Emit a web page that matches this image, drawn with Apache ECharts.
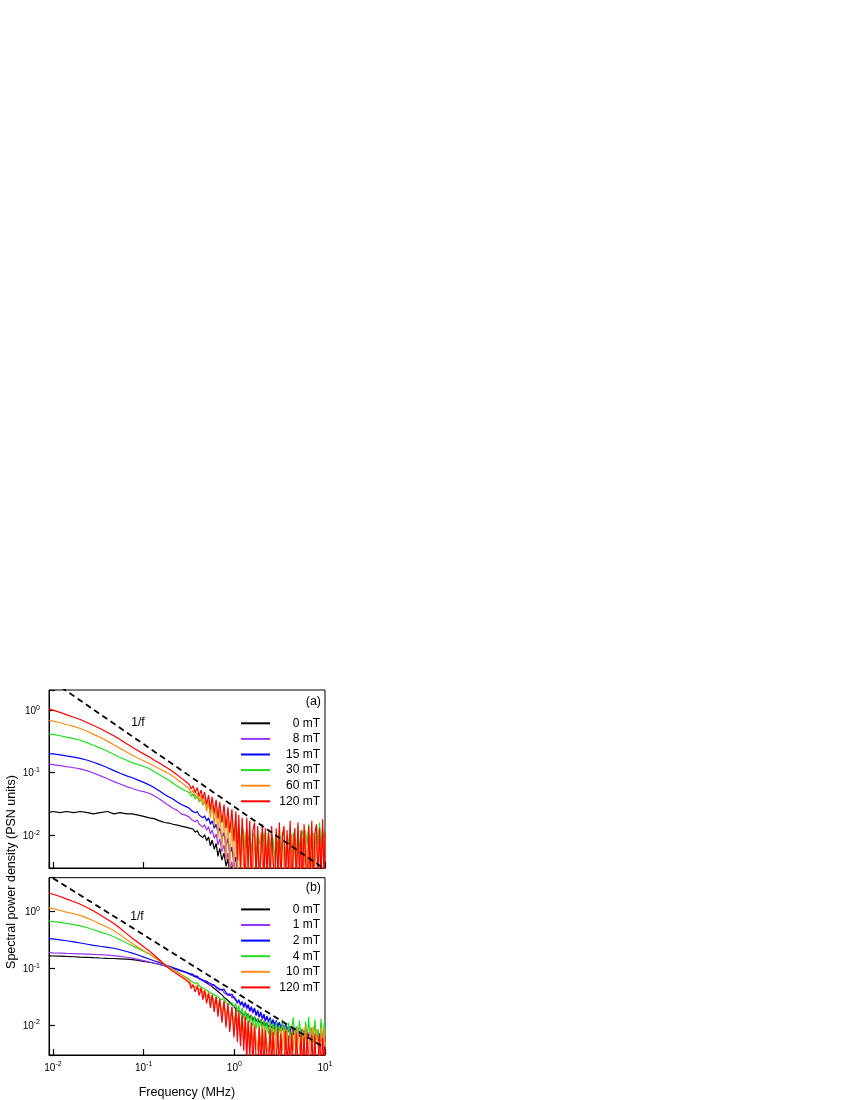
<!DOCTYPE html>
<html>
<head>
<meta charset="utf-8">
<title>Spectral power density</title>
<script src="https://cdn.jsdelivr.net/npm/echarts@6/dist/echarts.min.js"></script>
<style>
  html, body { margin: 0; padding: 0; background: #fff; }
  #chart { width: 850px; height: 1100px; }
</style>
</head>
<body>
<div id="chart"></div>
<script>
// frequency grid (MHz) shared by every spectrum
var freq = [0.009,0.01,0.012,0.014,0.017,0.02,0.024,0.028,0.033,0.04,
  0.047,0.055,0.065,0.075,0.087,0.1,0.115,0.13,0.15,0.17,
  0.19,0.21,0.235,0.26,0.29,
  0.32,0.335,0.35,0.37,0.39,0.41,0.43,0.45,0.47,0.495,
  0.52,0.545,0.57,0.6,0.63,0.66,0.69,0.73,0.77,0.81,
  0.85,0.89,0.94,0.99,
  1.04,1.08,1.12,1.17,1.22,1.27,1.32,1.37,1.42,1.48,
  1.54,1.6,1.67,1.74,1.81,1.88,1.96,2.04,2.12,2.2,
  2.29,2.38,2.48,2.58,2.68,2.79,2.9,3.02,3.14,3.26,
  3.39,3.53,3.67,3.82,3.97,4.13,4.3,4.47,4.65,4.83,
  5.03,5.23,5.44,5.65,5.88,6.11,6.36,6.61,6.88,7.15,
  7.44,7.74,8.05,8.37,8.7,9.05,9.41,9.8,10];

// panel (a)
var a_0mT = [0.023,0.024,0.023,0.024,0.023,0.024,0.023,0.022,0.023,0.024,
  0.022,0.023,0.022,0.022,0.021,0.020,0.019,0.0185,0.017,0.016,
  0.0157,0.015,0.0145,0.014,0.0135,
  0.013,0.0122,0.0126,0.0112,0.0118,0.0102,0.0108,0.0092,0.0102,0.0082,
  0.0094,0.0068,0.0084,0.006,0.0074,0.0046,0.0062,0.004,0.0052,0.0032,
  0.0042,0.0025,0.0032,0.002];
var a_8mT = [0.137,0.135,0.130,0.125,0.120,0.115,0.107,0.099,0.090,0.080,
  0.072,0.066,0.060,0.056,0.052,0.050,0.047,0.043,0.038,0.033,
  0.030,0.027,0.025,0.022,0.021,
  0.0195,0.018,0.0185,0.0165,0.0175,0.015,0.016,0.0135,0.0148,0.012,
  0.0138,0.0105,0.0122,0.009,0.0105,0.007,0.0088,0.0055,0.007,0.004,
  0.0052,0.003,0.0038,0.0022];
var a_15mT = [0.202,0.200,0.193,0.186,0.178,0.170,0.158,0.147,0.135,0.120,
  0.108,0.098,0.089,0.083,0.076,0.070,0.064,0.058,0.051,0.045,
  0.041,0.038,0.034,0.031,0.029,
  0.027,0.025,0.026,0.023,0.024,0.021,0.022,0.019,0.0205,0.017,
  0.019,0.015,0.017,0.013,0.015,0.011,0.013,0.009,0.011,0.0065,
  0.009,0.0048,0.0065,0.0035,
  0.0045,0.0022];
var a_30mT = [0.415,0.41,0.39,0.37,0.35,0.33,0.30,0.275,0.25,0.22,
  0.195,0.175,0.158,0.145,0.135,0.126,0.117,0.105,0.093,0.083,
  0.076,0.068,0.061,0.056,0.051,
  0.048,0.042,0.046,0.038,0.042,0.034,0.038,0.030,0.035,0.027,
  0.031,0.024,0.028,0.021,0.026,0.018,0.024,0.016,0.021,0.013,
  0.019,0.011,0.017,0.010,
  0.017,0.009,0.015,0.007,0.014,0.011,0.006,0.013,0.008,0.012,
  0.005,0.011,0.009,0.004,0.012,0.007,0.010,0.005,0.011,0.008,
  0.0045,0.012,0.006,0.010,0.0085,0.004,0.011,0.006,0.013,0.005,
  0.009,0.012,0.004,0.010,0.007,0.013,0.005,0.011,0.0085,0.004,
  0.014,0.006,0.010,0.012,0.0045,0.011,0.007,0.015,0.005,0.012,
  0.009,0.0045,0.014,0.007,0.016,0.006,0.013,0.008,0.011];
var a_60mT = [0.69,0.67,0.63,0.59,0.55,0.51,0.46,0.41,0.37,0.32,
  0.28,0.245,0.215,0.19,0.17,0.155,0.142,0.128,0.115,0.105,
  0.097,0.088,0.078,0.070,0.062,
  0.055,0.047,0.053,0.041,0.048,0.035,0.044,0.030,0.040,0.024,
  0.036,0.019,0.033,0.014,0.029,0.009,0.026,0.006,0.023,0.004,
  0.020,0.003,0.018,0.0025,
  0.016,0.0022,0.014,0.003,0.013,0.002,0.009,0.012,0.0025,0.011,
  0.004,0.0022,0.010,0.003,0.0095,0.0022,0.011,0.0035,0.0025,0.0095,
  0.003,0.0105,0.0022,0.0085,0.0035,0.0025,0.010,0.003,0.009,0.0022,
  0.011,0.003,0.0025,0.0095,0.0035,0.0022,0.0105,0.003,0.009,0.0025,
  0.011,0.0035,0.0022,0.0095,0.003,0.012,0.0025,0.0035,0.010,0.0022,
  0.011,0.003,0.0095,0.0025,0.012,0.003,0.0105,0.0025,0.009];
var a_120mT = [1.04,1.00,0.92,0.85,0.77,0.71,0.63,0.57,0.51,0.44,
  0.39,0.34,0.29,0.255,0.225,0.20,0.18,0.16,0.142,0.127,
  0.115,0.104,0.092,0.082,0.073,
  0.064,0.055,0.062,0.048,0.058,0.042,0.053,0.038,0.049,0.031,
  0.044,0.026,0.041,0.023,0.037,0.019,0.034,0.016,0.031,0.013,
  0.028,0.011,0.026,0.008,
  0.024,0.004,0.021,0.0025,0.019,0.006,0.0015,0.019,0.003,0.017,
  0.0015,0.012,0.016,0.002,0.014,0.0015,0.005,0.015,0.0015,0.013,
  0.002,0.011,0.0015,0.014,0.004,0.0015,0.013,0.002,0.016,0.0015,
  0.010,0.014,0.0015,0.012,0.002,0.017,0.0015,0.006,0.013,0.0015,
  0.016,0.002,0.012,0.0015,0.015,0.004,0.0015,0.014,0.002,0.017,
  0.0015,0.011,0.015,0.0015,0.013,0.002,0.018,0.0015,0.011];

// panel (b)
var b_0mT = [0.166,0.165,0.164,0.162,0.160,0.158,0.156,0.154,0.152,0.150,
  0.149,0.147,0.145,0.142,0.138,0.133,0.128,0.123,0.117,0.111,
  0.105,0.100,0.095,0.090,0.085,
  0.079,0.076,0.074,0.071,0.068,0.066,0.063,0.060,0.058,0.055,
  0.052,0.050,0.047,0.044,0.042,0.039,0.037,0.034,0.031,0.029,
  0.027,0.025,0.023,0.021,
  0.020,0.018,0.019,0.017,0.018,0.015,0.017,0.014,0.016,0.013,
  0.015,0.012,0.014,0.0115,0.013,0.011,0.0125,0.0102,0.0118,0.0098,
  0.011,0.0092,0.0105,0.0088,0.010,0.0084,0.0095,0.008,0.009,0.0077,
  0.0088,0.0074,0.0085,0.0071,0.0082,0.0069,0.0079,0.0067,0.0077,0.0064,
  0.0074,0.0062,0.0072,0.006,0.007,0.0058,0.0068,0.0057,0.0066,0.0056,
  0.0064,0.0054,0.0062,0.0053,0.006,0.0052,0.0059,0.005,0.0057];
var b_1mT = [0.190,0.188,0.186,0.184,0.182,0.180,0.178,0.176,0.174,0.171,
  0.168,0.163,0.157,0.151,0.144,0.137,0.130,0.124,0.117,0.111,
  0.104,0.099,0.095,0.090,0.085,
  0.080,0.079,0.075,0.074,0.069,0.069,0.063,0.064,0.058,0.060,
  0.053,0.056,0.049,0.051,0.045,0.048,0.041,0.043,0.037,0.040,
  0.033,0.036,0.030,0.032,
  0.029,0.024,0.027,0.022,0.025,0.020,0.024,0.019,0.022,0.017,
  0.020,0.016,0.019,0.0145,0.0175,0.0135,0.016,0.0125,0.015,0.0115,
  0.014,0.011,0.0128,0.0102,0.012,0.0095,0.0115,0.009,0.0108,0.0085,
  0.0102,0.0082,0.0098,0.0078,0.0095,0.0074,0.009,0.0072,0.0086,0.0069,
  0.0083,0.0066,0.008,0.0063,0.0078,0.0062,0.0075,0.006,0.0072,0.0058,
  0.007,0.0056,0.0068,0.0055,0.0066,0.0053,0.0064,0.0052,0.006];
var b_2mT = [0.335,0.330,0.318,0.307,0.293,0.280,0.266,0.255,0.245,0.235,
  0.226,0.213,0.198,0.186,0.172,0.158,0.146,0.136,0.126,0.117,
  0.110,0.103,0.097,0.091,0.086,
  0.081,0.077,0.078,0.072,0.073,0.067,0.068,0.062,0.064,0.058,
  0.059,0.054,0.056,0.050,0.051,0.045,0.047,0.041,0.043,0.037,
  0.039,0.033,0.035,0.030,
  0.030,0.025,0.028,0.023,0.026,0.021,0.025,0.020,0.023,0.018,
  0.021,0.017,0.020,0.015,0.018,0.014,0.017,0.013,0.0155,0.012,
  0.0145,0.0115,0.0135,0.0105,0.0125,0.0098,0.012,0.0093,0.0112,0.0088,
  0.0106,0.0085,0.0102,0.008,0.0098,0.0077,0.0094,0.0074,0.009,0.0071,
  0.0087,0.0069,0.0084,0.0067,0.0081,0.0065,0.0079,0.0063,0.0077,0.0061,
  0.0075,0.006,0.0073,0.0058,0.0071,0.0057,0.0069,0.0056,0.0062];
var b_4mT = [0.68,0.67,0.645,0.62,0.59,0.56,0.52,0.48,0.44,0.40,
  0.36,0.32,0.28,0.25,0.225,0.20,0.18,0.158,0.136,0.117,
  0.105,0.096,0.087,0.077,0.070,
  0.064,0.059,0.061,0.054,0.056,0.049,0.052,0.045,0.047,0.041,
  0.043,0.037,0.040,0.034,0.036,0.031,0.033,0.028,0.030,0.025,
  0.027,0.023,0.025,0.021,
  0.024,0.017,0.022,0.015,0.020,0.013,0.018,0.012,0.016,0.011,
  0.015,0.0095,0.014,0.0085,0.013,0.008,0.0125,0.0075,0.012,0.007,
  0.011,0.0068,0.0125,0.0062,0.0105,0.0065,0.0115,0.0058,0.010,0.0062,
  0.0125,0.0055,0.0095,0.006,0.011,0.0052,0.009,0.0135,0.0055,0.0095,
  0.005,0.012,0.0058,0.0088,0.0048,0.0115,0.0055,0.014,0.005,0.0092,
  0.0048,0.0125,0.0055,0.0085,0.0045,0.013,0.005,0.011,0.0075];
var b_10mT = [1.17,1.13,1.05,0.98,0.92,0.86,0.77,0.69,0.61,0.53,
  0.46,0.39,0.32,0.275,0.235,0.205,0.182,0.157,0.135,0.117,
  0.105,0.095,0.085,0.077,0.068,
  0.060,0.052,0.056,0.046,0.051,0.041,0.046,0.036,0.042,0.031,
  0.038,0.027,0.034,0.023,0.031,0.019,0.028,0.016,0.025,0.013,
  0.022,0.011,0.020,0.009,
  0.019,0.009,0.017,0.0075,0.015,0.006,0.014,0.005,0.012,0.0045,
  0.011,0.004,0.0105,0.0055,0.0035,0.0095,0.004,0.010,0.0032,0.009,
  0.0045,0.003,0.0095,0.0038,0.0085,0.003,0.009,0.0042,0.0028,0.0088,
  0.0035,0.0095,0.003,0.0082,0.0042,0.0028,0.009,0.0035,0.0085,0.003,
  0.0095,0.004,0.0028,0.0088,0.0032,0.010,0.0038,0.0028,0.009,0.0035,
  0.0095,0.003,0.0085,0.0042,0.0028,0.0092,0.0035,0.0088,0.004];
var b_120mT = [2.12,2.03,1.85,1.68,1.50,1.35,1.17,1.03,0.88,0.73,
  0.62,0.51,0.41,0.34,0.285,0.24,0.205,0.172,0.14,0.117,
  0.100,0.089,0.079,0.071,0.063,
  0.055,0.044,0.052,0.038,0.048,0.033,0.045,0.028,0.040,0.024,
  0.036,0.020,0.034,0.017,0.031,0.014,0.029,0.011,0.027,0.009,
  0.024,0.0075,0.021,0.006,
  0.019,0.005,0.017,0.0042,0.015,0.0035,0.014,0.0022,0.012,0.0028,
  0.011,0.0018,0.0095,0.0025,0.0015,0.009,0.002,0.0085,0.0015,0.008,
  0.0025,0.0015,0.0085,0.0018,0.0075,0.0015,0.0025,0.008,0.0015,0.007,
  0.0018,0.0015,0.0078,0.002,0.0065,0.0015,0.0072,0.0018,0.0015,0.007,
  0.0022,0.0015,0.0068,0.0018,0.006,0.0015,0.0072,0.002,0.0015,0.0065,
  0.0018,0.0062,0.0015,0.0022,0.0068,0.0015,0.006,0.0018,0.0042];

// 1/f guide lines (end points)
var guideA = [[0.01, 2.86], [10, 0.00286]];
var guideB = [[0.01, 3.9], [10, 0.0039]];

var namesA = ['0 mT', '8 mT', '15 mT', '30 mT', '60 mT', '120 mT'];
var namesB = ['0 mT', '1 mT', '2 mT', '4 mT', '10 mT', '120 mT'];
var valuesA = [a_0mT, a_8mT, a_15mT, a_30mT, a_60mT, a_120mT];
var valuesB = [b_0mT, b_1mT, b_2mT, b_4mT, b_10mT, b_120mT];
var colors = ['#000000', '#9933ff', '#0000ff', '#22dd22', '#ff8c1a', '#ff0000'];

var FONT = 'Liberation Sans';

function pairs(vals) {
  return vals.map(function (v, i) { return [freq[i], v]; });
}

function powLabel(v) {
  var l = Math.log10(v);
  var e = Math.round(l);
  if (Math.abs(l - e) > 1e-6) return '';
  return '{b|10}{s|' + e + '}';
}

var supRich = {
  b: { fontSize: 10, fontFamily: FONT, color: '#000', lineHeight: 12, verticalAlign: 'bottom' },
  s: { fontSize: 7, fontFamily: FONT, color: '#000', lineHeight: 8, verticalAlign: 'top' }
};

function xAxisFor(gi, showLabels) {
  return {
    type: 'log', gridIndex: gi, min: 0.00904, max: 10,
    axisLine: { show: true, lineStyle: { color: '#000', width: 1 } },
    axisTick: { show: true, inside: true, length: 6, lineStyle: { color: '#000', width: 1.2 } },
    axisLabel: { show: showLabels, formatter: powLabel, margin: 6, rich: supRich },
    splitLine: { show: false },
    minorTick: { show: false },
    name: showLabels ? 'Frequency (MHz)' : '',
    nameLocation: 'middle', nameGap: 31,
    nameTextStyle: { fontSize: 12.5, color: '#000', fontFamily: FONT }
  };
}

function yAxisFor(gi, min, max) {
  return {
    type: 'log', gridIndex: gi, min: min, max: max,
    axisLine: { show: true, lineStyle: { color: '#000', width: 1 } },
    axisTick: { show: true, inside: true, length: 6, lineStyle: { color: '#000', width: 1.2 } },
    axisLabel: { show: true, formatter: powLabel, margin: 9, rich: supRich },
    splitLine: { show: false },
    minorTick: { show: false }
  };
}

function legendFor(names, top) {
  return {
    orient: 'vertical', left: 241, top: top, padding: 0,
    icon: 'rect', itemWidth: 29, itemHeight: 2, itemGap: 3.6,
    selectedMode: false,
    data: names,
    formatter: function (n) { return '{r|' + n + '}'; },
    textStyle: {
      color: '#000', fontSize: 12, fontFamily: FONT,
      rich: { r: { width: 45, align: 'right', fontSize: 12, fontFamily: FONT } }
    }
  };
}

var series = [];
function addPanel(names, values, guide, gi) {
  for (var i = 0; i < names.length; i++) {
    series.push({
      name: names[i], type: 'line', xAxisIndex: gi, yAxisIndex: gi,
      data: pairs(values[i]), symbol: 'none', showSymbol: false, clip: true,
      lineStyle: { color: colors[i], width: 1.2 }, itemStyle: { color: colors[i] },
      z: 2
    });
  }
  series.push({
    type: 'line', xAxisIndex: gi, yAxisIndex: gi, data: guide,
    symbol: 'none', clip: true, z: 3,
    lineStyle: { color: '#000', width: 1.8, type: [6, 4] }
  });
}
addPanel(namesA, valuesA, guideA, 0);
addPanel(namesB, valuesB, guideB, 1);

var chart = echarts.init(document.getElementById('chart'), null, { renderer: 'canvas' });
chart.setOption({
  backgroundColor: '#fff',
  animation: false,
  textStyle: { fontFamily: FONT },
  grid: [
    { left: 49, top: 690, width: 276, height: 178, show: true, borderColor: '#000', borderWidth: 1, outerBoundsMode: 'none' },
    { left: 49, top: 877.7, width: 276, height: 177.3, show: true, borderColor: '#000', borderWidth: 1, outerBoundsMode: 'none' }
  ],
  xAxis: [xAxisFor(0, false), xAxisFor(1, true)],
  yAxis: [yAxisFor(0, 0.003, 2.1), yAxisFor(1, 0.00295, 3.98)],
  legend: [legendFor(namesA, 717.3), legendFor(namesB, 903.4)],
  series: series,
  graphic: [
    { type: 'text', x: 321, y: 702, style: { text: '(a)', textAlign: 'right', textVerticalAlign: 'middle', fontSize: 12.5, fontFamily: FONT, fill: '#000' } },
    { type: 'text', x: 321, y: 888, style: { text: '(b)', textAlign: 'right', textVerticalAlign: 'middle', fontSize: 12.5, fontFamily: FONT, fill: '#000' } },
    { type: 'text', x: 138, y: 723, style: { text: '1/f', textAlign: 'center', textVerticalAlign: 'middle', fontSize: 12, fontFamily: FONT, fill: '#000' } },
    { type: 'text', x: 137, y: 917, style: { text: '1/f', textAlign: 'center', textVerticalAlign: 'middle', fontSize: 12, fontFamily: FONT, fill: '#000' } },
    { type: 'text', x: 12, y: 872, rotation: Math.PI / 2, style: { text: 'Spectral power density (PSN units)', textAlign: 'center', textVerticalAlign: 'middle', fontSize: 12.5, fontFamily: FONT, fill: '#000' } }
  ]
});
</script>
</body>
</html>
